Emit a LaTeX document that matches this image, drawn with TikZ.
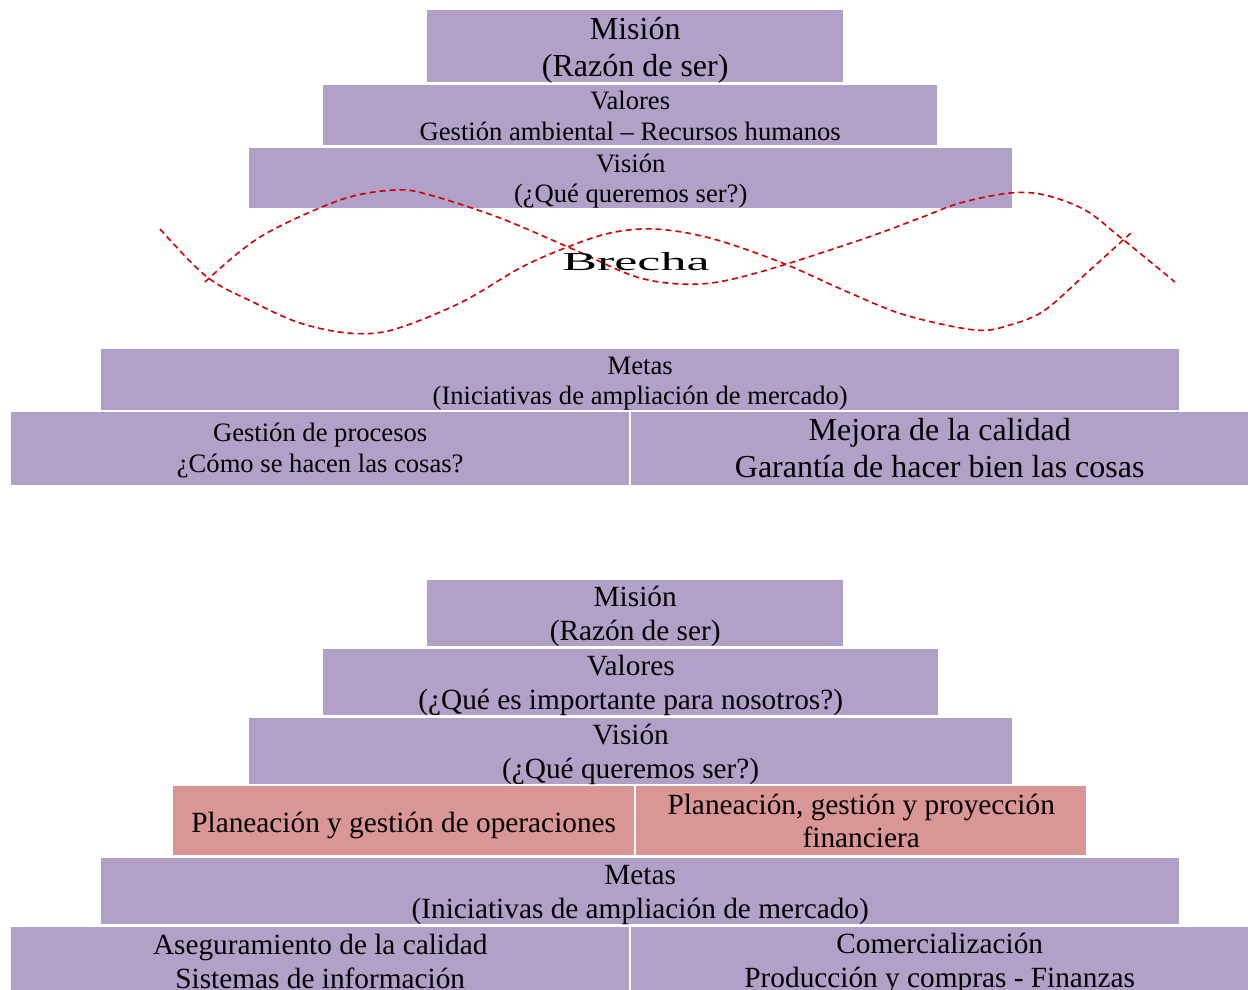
\documentclass[tikz,border=0pt]{standalone}
\usepackage{fontspec}
\setmainfont{Liberation Serif}
\definecolor{lav}{HTML}{B1A0C7}
\definecolor{pinkbox}{HTML}{D99694}
\definecolor{wavered}{HTML}{D00000}
\newcommand\wstrutof[1]{\rule[\dimexpr-0.258\dimexpr#1pt\relax+4pt\relax]{0pt}{1.149\dimexpr#1pt\relax}}
\tikzset{
  box/.style={fill=lav, inner sep=0pt, anchor=north west},
  pbox/.style={box, fill=pinkbox},
  txt/.style={inner sep=0pt, align=center},
  fsize/.style 2 args={font=\fontsize{#1}{#2}\selectfont,
    execute at begin node=\wstrutof{#1}, execute at end node=\wstrutof{#1}},
  wave/.style={draw=wavered, line width=1.6pt, dash pattern=on 6pt off 4pt, smooth, tension=0.55}
}
\begin{document}
\begin{tikzpicture}[x=1pt,y=-1pt]
\useasboundingbox (0,0) rectangle (1248,989);
% top pyramid boxes
\node[box, minimum width=416, minimum height=72] (m1) at (427,10) {};
\node[box, minimum width=614, minimum height=60] (v1) at (323,85) {};
\node[box, minimum width=763, minimum height=60] (vi1) at (249,148) {};
\node[box, minimum width=1078, minimum height=61] (me1) at (101,349) {};
\node[box, minimum width=618, minimum height=73] (g1) at (11,412) {};
\node[box, minimum width=617, minimum height=73] (q1) at (631,412) {};
% top pyramid texts
\node[txt, fsize={32}{36.8}] (m1t) at ([yshift=-4pt]m1.center) {Misión\\(Razón de ser)};
\node[txt, fsize={26.6}{30.6}] (v1t) at ([yshift=-2pt]v1.center) {Valores\\Gestión ambiental – Recursos humanos};
\node[txt, fsize={26.6}{30.6}] (vi1t) at ([yshift=-3pt]vi1.center) {Visión\\(¿Qué queremos ser?)};
\node[txt, fsize={26.6}{30.6}] (me1t) at ([yshift=-4pt]me1.center) {Metas\\(Iniciativas de ampliación de mercado)};
\node[txt, fsize={26.6}{30.6}] (g1t) at ([yshift=-2pt]g1.center) {Gestión de procesos\\¿Cómo se hacen las cosas?};
\node[txt, fsize={32}{36.8}] (q1t) at ([yshift=-1pt]q1.center) {Mejora de la calidad\\Garantía de hacer bien las cosas};
% waves
\draw[wave] plot coordinates {(160,229) (207,277) (255,303) (300,323) (348,333) (392,330) (460,303) (520,268) (565,248) (610,233) (655,229) (710,238) (780,262) (850,293) (905,315) (975,330) (1010,325) (1045,310) (1090,270) (1132,232)};
\draw[wave] plot coordinates {(205,282) (260,237) (340,200) (395,190) (430,195) (500,218) (575,250) (640,278) (700,284) (760,272) (860,240) (920,218) (960,203) (1010,193) (1045,195) (1085,210) (1120,237) (1175,282)};
\node[inner sep=0pt, font=\fontsize{26}{30}\selectfont] (br) at (636,262) {\scalebox{2}[1]{Brecha}};
% bottom pyramid boxes
\node[box, minimum width=416, minimum height=66] (m2) at (427,580) {};
\node[box, minimum width=615, minimum height=66] (v2) at (323,649) {};
\node[box, minimum width=763, minimum height=66] (vi2) at (249,718) {};
\node[pbox, minimum width=461, minimum height=69] (p1) at (173,786) {};
\node[pbox, minimum width=450, minimum height=69] (p2) at (636,786) {};
\node[box, minimum width=1078, minimum height=66] (me2) at (101,858) {};
\node[box, minimum width=618, minimum height=66] (a2) at (11,927) {};
\node[box, minimum width=617, minimum height=66] (c2) at (631,927) {};
% bottom pyramid texts
\node[txt, fsize={29.3}{33.7}] (m2t) at ([yshift=-3pt]m2.center) {Misión\\(Razón de ser)};
\node[txt, fsize={29.3}{33.7}] (v2t) at ([yshift=-3pt]v2.center) {Valores\\(¿Qué es importante para nosotros?)};
\node[txt, fsize={29.3}{33.7}] (vi2t) at ([yshift=-3pt]vi2.center) {Visión\\(¿Qué queremos ser?)};
\node[txt, fsize={29.3}{33.7}] (p1t) at (p1.center) {Planeación y gestión de operaciones};
\node[txt, fsize={29.3}{33.7}] (p2t) at ([yshift=-2pt]p2.center) {Planeación, gestión y proyección\\financiera};
\node[txt, fsize={29.3}{33.7}] (me2t) at ([yshift=-4pt]me2.center) {Metas\\(Iniciativas de ampliación de mercado)};
\node[txt, fsize={29.3}{33.7}] (a2t) at ([yshift=-3pt]a2.center) {Aseguramiento de la calidad\\Sistemas de información};
\node[txt, fsize={29.3}{33.7}] (c2t) at ([yshift=-3pt]c2.center) {Comercialización\\Producción y compras - Finanzas};
\end{tikzpicture}
\end{document}
